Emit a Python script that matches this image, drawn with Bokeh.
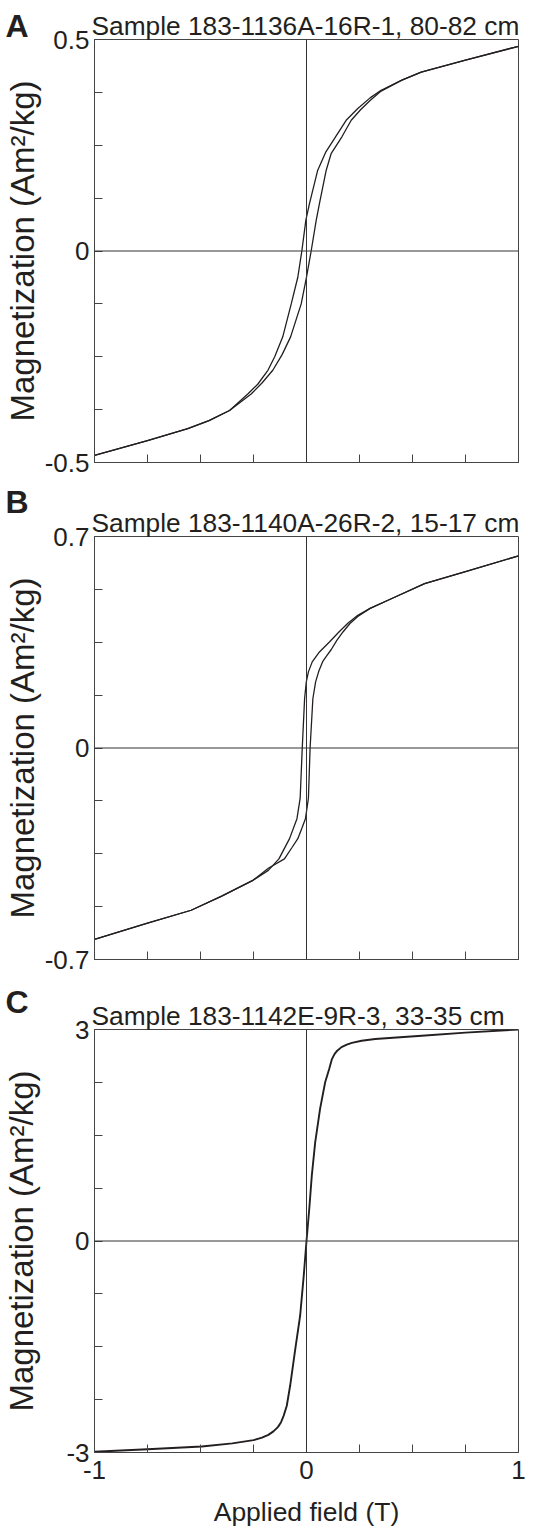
from bokeh.plotting import figure
from bokeh.models import FixedTicker, Span, Label, Title
from bokeh.layouts import column
from bokeh.embed import file_html
from bokeh.resources import INLINE

# ---------------- data ----------------
# Panel A: Sample 183-1136A-16R-1, 80-82 cm
a_desc_field = [1.0, 0.75, 0.541, 0.45, 0.352, 0.30, 0.242, 0.187, 0.137, 0.090, 0.053, 0.014, -0.003,
                -0.022, -0.041, -0.072, -0.112, -0.150, -0.182, -0.230, -0.277, -0.363, -0.46, -0.560, -0.75, -1.0]
a_desc_mag = [0.484, 0.451, 0.423, 0.404, 0.380, 0.362, 0.337, 0.309, 0.270, 0.233, 0.191, 0.112, 0.073,
              0.0, -0.062, -0.125, -0.203, -0.250, -0.282, -0.315, -0.338, -0.377, -0.401, -0.420, -0.448, -0.483]
a_asc_field = [-1.0, -0.75, -0.560, -0.46, -0.363, -0.261, -0.210, -0.159, -0.115, -0.075, -0.025, 0.0, 0.022,
               0.046, 0.061, 0.093, 0.116, 0.167, 0.211, 0.255, 0.30, 0.352, 0.45, 0.541, 0.75, 1.0]
a_asc_mag = [-0.483, -0.448, -0.420, -0.401, -0.377, -0.338, -0.312, -0.282, -0.245, -0.203, -0.125, -0.062, 0.0,
             0.073, 0.112, 0.191, 0.230, 0.270, 0.309, 0.334, 0.356, 0.378, 0.404, 0.423, 0.451, 0.484]

# Panel B: Sample 183-1140A-26R-2, 15-17 cm
b_desc_field = [1.0, 0.75, 0.557, 0.400, 0.30, 0.242, 0.195, 0.153, 0.107, 0.061, 0.027, 0.009, -0.001,
                -0.009, -0.020, -0.030, -0.045, -0.080, -0.130, -0.180, -0.253, -0.40, -0.544, -0.75, -1.0]
b_desc_mag = [0.636, 0.584, 0.544, 0.494, 0.462, 0.439, 0.413, 0.384, 0.350, 0.318, 0.285, 0.252, 0.219,
              0.163, 0.0, -0.167, -0.234, -0.300, -0.367, -0.405, -0.438, -0.490, -0.537, -0.580, -0.633]
b_asc_field = [-1.0, -0.75, -0.544, -0.40, -0.253, -0.180, -0.104, -0.070, -0.041, -0.020, -0.005, 0.009,
               0.017, 0.030, 0.043, 0.057, 0.077, 0.095, 0.117, 0.143, 0.172, 0.205, 0.242, 0.30, 0.400,
               0.557, 0.75, 1.0]
b_asc_mag = [-0.633, -0.580, -0.537, -0.490, -0.438, -0.398, -0.367, -0.331, -0.300, -0.262, -0.234, -0.167,
             0.0, 0.163, 0.219, 0.252, 0.287, 0.305, 0.326, 0.356, 0.384, 0.412, 0.435, 0.462, 0.494,
             0.544, 0.584, 0.636]

# Panel C: Sample 183-1142E-9R-3, 33-35 cm
c_field = [-1.0, -0.75, -0.494, -0.35, -0.25, -0.21, -0.18, -0.156, -0.135, -0.120, -0.108, -0.093, -0.077,
           -0.053, -0.030, -0.013, 0.0, 0.013, 0.025, 0.041, 0.064, 0.088, 0.107, 0.120, 0.132, 0.145, 0.165,
           0.19, 0.214, 0.26, 0.324, 0.560, 0.75, 1.0]
c_mag = [-2.99, -2.953, -2.915, -2.87, -2.825, -2.79, -2.75, -2.70, -2.64, -2.57, -2.48, -2.337, -2.05,
         -1.533, -1.06, -0.492, 0.0, 0.454, 0.927, 1.40, 1.874, 2.252, 2.44, 2.58, 2.65, 2.70, 2.75,
         2.785, 2.81, 2.84, 2.865, 2.915, 2.955, 3.0]

x_ticks = [-1.0, -0.75, -0.5, -0.25, 0.0, 0.25, 0.5, 0.75, 1.0]
x_tick_labels = {-1.0: "-1", 0.0: "0", 1.0: "1"}

panels = [
    dict(letter="A", title="Sample 183-1136A-16R-1, 80-82 cm", ymax=0.5, ylabels=("-0.5", "0", "0.5"),
         ticks=[-0.5, -0.375, -0.25, -0.125, 0.0, 0.125, 0.25, 0.375, 0.5],
         branches=[(a_desc_field, a_desc_mag), (a_asc_field, a_asc_mag)], lw=1.3, ylab_standoff=1),
    dict(letter="B", title="Sample 183-1140A-26R-2, 15-17 cm", ymax=0.7, ylabels=("-0.7", "0", "0.7"),
         ticks=[-0.7, -0.525, -0.35, -0.175, 0.0, 0.175, 0.35, 0.525, 0.7],
         branches=[(b_desc_field, b_desc_mag), (b_asc_field, b_asc_mag)], lw=1.3, ylab_standoff=1),
    dict(letter="C", title="Sample 183-1142E-9R-3, 33-35 cm", ymax=3.0, ylabels=("-3", "0", "3"),
         ticks=[-3.0, -2.25, -1.5, -0.75, 0.0, 0.75, 1.5, 2.25, 3.0],
         branches=[(c_field, c_mag)], lw=1.9, ylab_standoff=23),
]

INK = "#231f20"
FONT = "Liberation Sans"
FRAME_W, FRAME_H = 424, 423
borders = [(39, 18), (56, 18), (52, 67)]
letter_pos = [(5, 25), (5, 21), (5, 24)]  # canvas px of each panel letter (left, baseline)

figs = []
for i, pd in enumerate(panels):
    top, bottom = borders[i]
    ymax = pd["ymax"]
    p = figure(frame_width=FRAME_W, frame_height=FRAME_H, x_range=(-1, 1), y_range=(-ymax, ymax),
               output_backend="svg", toolbar_location=None,
               min_border_left=90, min_border_right=21, min_border_top=top, min_border_bottom=bottom)
    p.background_fill_color = "white"
    p.border_fill_color = "white"
    p.grid.visible = False
    p.outline_line_color = "#444444"
    p.outline_line_width = 1

    t = Title(text=pd["title"], align="left", offset=-3, standoff=-3,
              text_font=FONT, text_font_size="26.3px", text_font_style="normal", text_color=INK)
    p.add_layout(t, "above")

    for ax in (p.xaxis[0], p.yaxis[0]):
        ax.axis_line_color = "#444444"
        ax.major_tick_line_color = "#444444"
        ax.major_tick_in = 8
        ax.major_tick_out = 0
        ax.minor_tick_line_color = None
        ax.major_label_text_font = FONT
        ax.major_label_text_font_size = "26px"
        ax.major_label_text_color = INK
        ax.axis_label_text_font = FONT
        ax.axis_label_text_font_style = "normal"
        ax.axis_label_text_color = INK

    p.xaxis.ticker = FixedTicker(ticks=x_ticks)
    if i == 2:
        p.xaxis.major_label_overrides = {v: x_tick_labels.get(v, "") for v in x_ticks}
        p.xaxis.axis_label = "Applied field (T)"
        p.xaxis.axis_label_text_font_size = "26.5px"
        p.xaxis.major_label_standoff = 8
        p.xaxis.axis_label_standoff = 15
    else:
        p.xaxis.major_label_overrides = {v: "" for v in x_ticks}
        p.xaxis.major_label_text_font_size = "1px"
        p.xaxis.major_label_standoff = 0

    yt = pd["ticks"]
    p.yaxis.ticker = FixedTicker(ticks=yt)
    lo, mid, hi = pd["ylabels"]
    ov = {v: "" for v in yt}
    ov[yt[0]] = lo
    ov[yt[4]] = mid
    ov[yt[-1]] = hi
    p.yaxis.major_label_overrides = ov
    p.yaxis.major_label_standoff = 5
    p.yaxis.axis_label = "Magnetization (Am²/kg)"
    p.yaxis.axis_label_text_font_size = "33px"
    p.yaxis.axis_label_standoff = pd["ylab_standoff"]

    p.add_layout(Span(location=0, dimension="width", line_color="#333333", line_width=1))
    p.add_layout(Span(location=0, dimension="height", line_color="#333333", line_width=1))

    for fx, my in pd["branches"]:
        p.line(fx, my, line_color=INK, line_width=pd["lw"])

    # panel letter: placed in a side panel (not clipped to the frame), canvas pixel position
    lx, ly = letter_pos[i]
    p.add_layout(Label(x=lx, y=ly, x_units="canvas", y_units="canvas",
                       text=pd["letter"], text_font=FONT, text_font_size="32px",
                       text_font_style="bold", text_color=INK,
                       text_baseline="alphabetic", text_align="left"), "right")
    figs.append(p)

layout = column(*figs, spacing=0)
open("out.html", "w").write(file_html(layout, INLINE))
